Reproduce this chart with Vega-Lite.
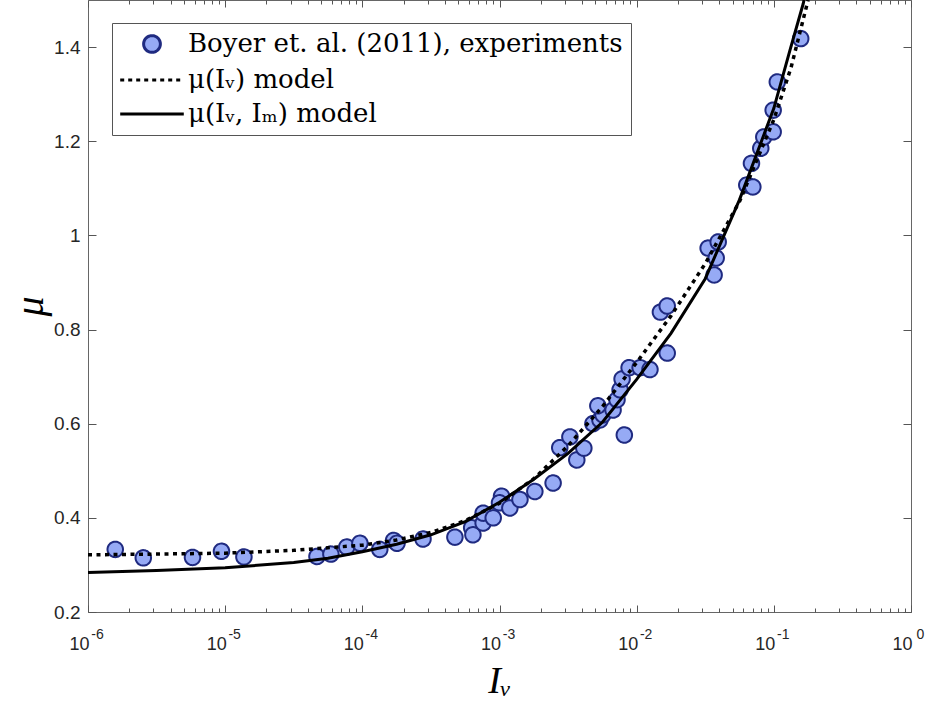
{
  "$schema": "https://vega.github.io/schema/vega-lite/v6.json",
  "width": 823,
  "height": 612,
  "autosize": {"type": "none"},
  "padding": {"left": 88, "top": 0, "right": 19, "bottom": 90},
  "background": "white",
  "datasets": {
    "points": [
      {"Iv": 1.58e-6, "mu": 0.333, "series": "Boyer et. al. (2011), experiments"},
      {"Iv": 2.53e-6, "mu": 0.315, "series": "Boyer et. al. (2011), experiments"},
      {"Iv": 5.78e-6, "mu": 0.316, "series": "Boyer et. al. (2011), experiments"},
      {"Iv": 9.4e-6, "mu": 0.329, "series": "Boyer et. al. (2011), experiments"},
      {"Iv": 1.37e-5, "mu": 0.317, "series": "Boyer et. al. (2011), experiments"},
      {"Iv": 4.67e-5, "mu": 0.318, "series": "Boyer et. al. (2011), experiments"},
      {"Iv": 5.9e-5, "mu": 0.323, "series": "Boyer et. al. (2011), experiments"},
      {"Iv": 7.7e-5, "mu": 0.338, "series": "Boyer et. al. (2011), experiments"},
      {"Iv": 9.6e-5, "mu": 0.346, "series": "Boyer et. al. (2011), experiments"},
      {"Iv": 1.34e-4, "mu": 0.333, "series": "Boyer et. al. (2011), experiments"},
      {"Iv": 1.69e-4, "mu": 0.352, "series": "Boyer et. al. (2011), experiments"},
      {"Iv": 1.79e-4, "mu": 0.346, "series": "Boyer et. al. (2011), experiments"},
      {"Iv": 2.77e-4, "mu": 0.355, "series": "Boyer et. al. (2011), experiments"},
      {"Iv": 4.73e-4, "mu": 0.359, "series": "Boyer et. al. (2011), experiments"},
      {"Iv": 6.27e-4, "mu": 0.379, "series": "Boyer et. al. (2011), experiments"},
      {"Iv": 6.4e-4, "mu": 0.364, "series": "Boyer et. al. (2011), experiments"},
      {"Iv": 7.6e-4, "mu": 0.389, "series": "Boyer et. al. (2011), experiments"},
      {"Iv": 7.6e-4, "mu": 0.41, "series": "Boyer et. al. (2011), experiments"},
      {"Iv": 9.0e-4, "mu": 0.4, "series": "Boyer et. al. (2011), experiments"},
      {"Iv": 1.035e-3, "mu": 0.446, "series": "Boyer et. al. (2011), experiments"},
      {"Iv": 1.0e-3, "mu": 0.432, "series": "Boyer et. al. (2011), experiments"},
      {"Iv": 1.19e-3, "mu": 0.421, "series": "Boyer et. al. (2011), experiments"},
      {"Iv": 1.41e-3, "mu": 0.439, "series": "Boyer et. al. (2011), experiments"},
      {"Iv": 1.81e-3, "mu": 0.456, "series": "Boyer et. al. (2011), experiments"},
      {"Iv": 2.46e-3, "mu": 0.474, "series": "Boyer et. al. (2011), experiments"},
      {"Iv": 2.75e-3, "mu": 0.549, "series": "Boyer et. al. (2011), experiments"},
      {"Iv": 3.26e-3, "mu": 0.572, "series": "Boyer et. al. (2011), experiments"},
      {"Iv": 3.66e-3, "mu": 0.523, "series": "Boyer et. al. (2011), experiments"},
      {"Iv": 4.12e-3, "mu": 0.548, "series": "Boyer et. al. (2011), experiments"},
      {"Iv": 4.8e-3, "mu": 0.6, "series": "Boyer et. al. (2011), experiments"},
      {"Iv": 5.4e-3, "mu": 0.608, "series": "Boyer et. al. (2011), experiments"},
      {"Iv": 5.68e-3, "mu": 0.619, "series": "Boyer et. al. (2011), experiments"},
      {"Iv": 5.21e-3, "mu": 0.638, "series": "Boyer et. al. (2011), experiments"},
      {"Iv": 6.73e-3, "mu": 0.629, "series": "Boyer et. al. (2011), experiments"},
      {"Iv": 7.19e-3, "mu": 0.651, "series": "Boyer et. al. (2011), experiments"},
      {"Iv": 7.57e-3, "mu": 0.672, "series": "Boyer et. al. (2011), experiments"},
      {"Iv": 7.83e-3, "mu": 0.695, "series": "Boyer et. al. (2011), experiments"},
      {"Iv": 8.81e-3, "mu": 0.719, "series": "Boyer et. al. (2011), experiments"},
      {"Iv": 1.06e-2, "mu": 0.719, "series": "Boyer et. al. (2011), experiments"},
      {"Iv": 1.25e-2, "mu": 0.715, "series": "Boyer et. al. (2011), experiments"},
      {"Iv": 8.13e-3, "mu": 0.576, "series": "Boyer et. al. (2011), experiments"},
      {"Iv": 1.67e-2, "mu": 0.75, "series": "Boyer et. al. (2011), experiments"},
      {"Iv": 1.49e-2, "mu": 0.837, "series": "Boyer et. al. (2011), experiments"},
      {"Iv": 1.67e-2, "mu": 0.85, "series": "Boyer et. al. (2011), experiments"},
      {"Iv": 3.32e-2, "mu": 0.973, "series": "Boyer et. al. (2011), experiments"},
      {"Iv": 3.93e-2, "mu": 0.986, "series": "Boyer et. al. (2011), experiments"},
      {"Iv": 3.8e-2, "mu": 0.952, "series": "Boyer et. al. (2011), experiments"},
      {"Iv": 3.67e-2, "mu": 0.916, "series": "Boyer et. al. (2011), experiments"},
      {"Iv": 6.35e-2, "mu": 1.107, "series": "Boyer et. al. (2011), experiments"},
      {"Iv": 7.03e-2, "mu": 1.103, "series": "Boyer et. al. (2011), experiments"},
      {"Iv": 6.87e-2, "mu": 1.153, "series": "Boyer et. al. (2011), experiments"},
      {"Iv": 8.03e-2, "mu": 1.185, "series": "Boyer et. al. (2011), experiments"},
      {"Iv": 8.45e-2, "mu": 1.209, "series": "Boyer et. al. (2011), experiments"},
      {"Iv": 9.89e-2, "mu": 1.22, "series": "Boyer et. al. (2011), experiments"},
      {"Iv": 9.89e-2, "mu": 1.266, "series": "Boyer et. al. (2011), experiments"},
      {"Iv": 0.106, "mu": 1.326, "series": "Boyer et. al. (2011), experiments"},
      {"Iv": 0.157, "mu": 1.418, "series": "Boyer et. al. (2011), experiments"}
    ],
    "dotted": [
      {"Iv": 1e-6, "mu": 0.3215}, {"Iv": 3.162e-6, "mu": 0.323}, {"Iv": 1e-5, "mu": 0.325},
      {"Iv": 3.162e-5, "mu": 0.331}, {"Iv": 1e-4, "mu": 0.342}, {"Iv": 1.778e-4, "mu": 0.353},
      {"Iv": 3.162e-4, "mu": 0.369}, {"Iv": 5.623e-4, "mu": 0.394}, {"Iv": 1e-3, "mu": 0.431},
      {"Iv": 1.778e-3, "mu": 0.483}, {"Iv": 3.162e-3, "mu": 0.553}, {"Iv": 5.623e-3, "mu": 0.636},
      {"Iv": 1e-2, "mu": 0.73}, {"Iv": 1.778e-2, "mu": 0.829}, {"Iv": 3.162e-2, "mu": 0.94},
      {"Iv": 5.623e-2, "mu": 1.072}, {"Iv": 0.1, "mu": 1.246}, {"Iv": 0.1334, "mu": 1.356},
      {"Iv": 0.1778, "mu": 1.5}
    ],
    "solid": [
      {"Iv": 1e-6, "mu": 0.284}, {"Iv": 3.162e-6, "mu": 0.288}, {"Iv": 1e-5, "mu": 0.294},
      {"Iv": 3.162e-5, "mu": 0.305}, {"Iv": 5.623e-5, "mu": 0.314}, {"Iv": 1e-4, "mu": 0.328},
      {"Iv": 1.778e-4, "mu": 0.344}, {"Iv": 3.162e-4, "mu": 0.364}, {"Iv": 5.623e-4, "mu": 0.392},
      {"Iv": 1e-3, "mu": 0.433}, {"Iv": 1.778e-3, "mu": 0.482}, {"Iv": 3.162e-3, "mu": 0.537},
      {"Iv": 5.623e-3, "mu": 0.603}, {"Iv": 1e-2, "mu": 0.694}, {"Iv": 1.778e-2, "mu": 0.792},
      {"Iv": 3.162e-2, "mu": 0.908}, {"Iv": 5.623e-2, "mu": 1.076}, {"Iv": 0.1, "mu": 1.27},
      {"Iv": 0.131, "mu": 1.393}, {"Iv": 0.1637, "mu": 1.492}, {"Iv": 0.166, "mu": 1.5}
    ]
  },
  "layer": [
    {
      "data": {"name": "points"},
      "mark": {"type": "point", "filled": true, "size": 240, "strokeWidth": 2, "opacity": 1},
      "encoding": {
        "x": {
          "field": "Iv", "type": "quantitative",
          "scale": {"type": "log", "domain": [1e-6, 1], "nice": false},
          "axis": {
            "orient": "bottom", "values": [1e-6, 1e-5, 1e-4, 1e-3, 1e-2, 1e-1, 1],
            "ticks": false, "domain": false, "grid": false, "labelFlush": false,
            "labelExpr": "'10'", "labelOffset": -9,
            "labelPadding": 23, "labelFont": "Liberation Sans", "labelFontSize": 18, "labelColor": "#262626",
            "title": "Iᵥ", "titleFont": "Liberation Serif", "titleFontStyle": "italic", "titleFontWeight": "normal",
            "titleFontSize": 38, "titlePadding": 9, "titleColor": "black"
          }
        },
        "y": {
          "field": "mu", "type": "quantitative",
          "scale": {"domain": [0.2, 1.5], "nice": false, "zero": false},
          "axis": {
            "orient": "left", "values": [0.2, 0.4, 0.6, 0.8, 1, 1.2, 1.4],
            "ticks": false, "domain": false, "grid": false, "format": "~g",
            "labelPadding": 8, "labelFont": "Liberation Sans", "labelFontSize": 19, "labelColor": "#262626",
            "title": "μ", "titleFont": "Liberation Serif", "titleFontStyle": "italic", "titleFontWeight": "normal",
            "titleFontSize": 40, "titlePadding": 3, "titleColor": "black"
          }
        },
        "shape": {
          "field": "series", "type": "nominal",
          "scale": {
            "domain": ["Boyer et. al. (2011), experiments", "μ(Iᵥ) model", "μ(Iᵥ, Iₘ) model"],
            "range": ["circle", "M-3.8,0H3.8", "M-3.8,0H3.8"]
          },
          "legend": {
            "title": null, "orient": "none", "legendX": 24, "legendY": 23,
            "padding": 8, "rowPadding": 8, "symbolSize": 280, "symbolOffset": 19, "labelOffset": 23,
            "labelFont": "DejaVu Serif", "labelFontSize": 26, "labelColor": "black", "labelLimit": 0,
            "strokeColor": "#555555", "fillColor": "white", "symbolStrokeWidth": 3,
            "encode": {"symbols": {"update": {"strokeWidth": {"signal": "datum.index === 0 ? 2 : 3.5"}}}}
          }
        },
        "fill": {
          "field": "series", "type": "nominal",
          "scale": {
            "domain": ["Boyer et. al. (2011), experiments", "μ(Iᵥ) model", "μ(Iᵥ, Iₘ) model"],
            "range": ["#96aaf5", "transparent", "transparent"]
          },
          "legend": {"title": null}
        },
        "stroke": {
          "field": "series", "type": "nominal",
          "scale": {
            "domain": ["Boyer et. al. (2011), experiments", "μ(Iᵥ) model", "μ(Iᵥ, Iₘ) model"],
            "range": ["#1f2a80", "black", "black"]
          },
          "legend": {"title": null}
        },
        "strokeDash": {
          "field": "series", "type": "nominal",
          "scale": {
            "domain": ["Boyer et. al. (2011), experiments", "μ(Iᵥ) model", "μ(Iᵥ, Iₘ) model"],
            "range": [[1, 0], [4, 4], [1, 0]]
          },
          "legend": {"title": null}
        }
      }
    },
    {
      "data": {"name": "dotted"},
      "mark": {"type": "line", "color": "black", "strokeWidth": 3.5, "strokeDash": [4, 4.5], "clip": true},
      "encoding": {
        "x": {
          "field": "Iv", "type": "quantitative",
          "axis": {
            "orient": "bottom", "labels": false, "domain": false, "grid": false, "ticks": true, "tickSize": 4, "offset": -4, "title": null,
            "values": [2e-6,3e-6,4e-6,5e-6,6e-6,7e-6,8e-6,9e-6,2e-5,3e-5,4e-5,5e-5,6e-5,7e-5,8e-5,9e-5,2e-4,3e-4,4e-4,5e-4,6e-4,7e-4,8e-4,9e-4,2e-3,3e-3,4e-3,5e-3,6e-3,7e-3,8e-3,9e-3,0.02,0.03,0.04,0.05,0.06,0.07,0.08,0.09,0.2,0.3,0.4,0.5,0.6,0.7,0.8,0.9]
          }
        },
        "y": {
          "field": "mu", "type": "quantitative",
          "axis": {"orient": "left", "labels": false, "domain": false, "grid": false, "ticks": true, "tickSize": 8, "offset": -8, "title": null,
                   "values": [0.2, 0.4, 0.6, 0.8, 1, 1.2, 1.4]}
        }
      }
    },
    {
      "data": {"name": "solid"},
      "mark": {"type": "line", "color": "black", "strokeWidth": 3, "clip": true},
      "encoding": {
        "x": {
          "field": "Iv", "type": "quantitative",
          "axis": {"orient": "bottom", "labels": false, "domain": false, "grid": false, "ticks": true, "tickSize": 7, "offset": -7, "title": null,
                   "values": [1e-6, 1e-5, 1e-4, 1e-3, 1e-2, 1e-1, 1]}
        },
        "y": {
          "field": "mu", "type": "quantitative",
          "axis": {"orient": "right", "labels": false, "domain": false, "grid": false, "ticks": true, "tickSize": 8, "offset": -8, "title": null,
                   "values": [0.2, 0.4, 0.6, 0.8, 1, 1.2, 1.4]}
        }
      }
    },
    {
      "data": {"name": "solid"},
      "mark": {"type": "point", "opacity": 0},
      "encoding": {
        "x": {
          "field": "Iv", "type": "quantitative",
          "axis": {
            "orient": "top", "labels": false, "domain": false, "grid": false, "ticks": true, "tickSize": 4, "offset": -4, "title": null,
            "values": [2e-6,3e-6,4e-6,5e-6,6e-6,7e-6,8e-6,9e-6,2e-5,3e-5,4e-5,5e-5,6e-5,7e-5,8e-5,9e-5,2e-4,3e-4,4e-4,5e-4,6e-4,7e-4,8e-4,9e-4,2e-3,3e-3,4e-3,5e-3,6e-3,7e-3,8e-3,9e-3,0.02,0.03,0.04,0.05,0.06,0.07,0.08,0.09,0.2,0.3,0.4,0.5,0.6,0.7,0.8,0.9]
          }
        },
        "y": {"field": "mu", "type": "quantitative", "axis": null}
      }
    },
    {
      "data": {"name": "solid"},
      "mark": {"type": "point", "opacity": 0},
      "encoding": {
        "x": {
          "field": "Iv", "type": "quantitative",
          "axis": {"orient": "top", "labels": false, "domain": false, "grid": false, "ticks": true, "tickSize": 7, "offset": -7, "title": null,
                   "values": [1e-6, 1e-5, 1e-4, 1e-3, 1e-2, 1e-1, 1]}
        },
        "y": {"field": "mu", "type": "quantitative", "axis": null}
      }
    },
    {
      "data": {"name": "solid"},
      "mark": {"type": "point", "opacity": 0},
      "encoding": {
        "x": {
          "field": "Iv", "type": "quantitative",
          "axis": {"orient": "bottom", "ticks": false, "domain": false, "grid": false, "title": null, "labelFlush": false,
                   "values": [1e-6, 1e-5, 1e-4, 1e-3, 1e-2, 1e-1, 1],
                   "labelExpr": "['-6','-5','-4','-3','-2','-1','0'][round(log(datum.value)/LN10)+6]",
                   "labelPadding": 15, "labelOffset": 9,
                   "labelFont": "Liberation Sans", "labelFontSize": 14, "labelColor": "#262626"}
        },
        "y": {"field": "mu", "type": "quantitative", "axis": null}
      }
    }
  ],
  "resolve": {"axis": {"x": "independent", "y": "independent"}},
  "config": {
    "view": {"stroke": "#666666", "strokeWidth": 1},
    "axis": {"grid": false, "tickColor": "#555555", "tickWidth": 1, "labelColor": "#262626"}
  }
}
